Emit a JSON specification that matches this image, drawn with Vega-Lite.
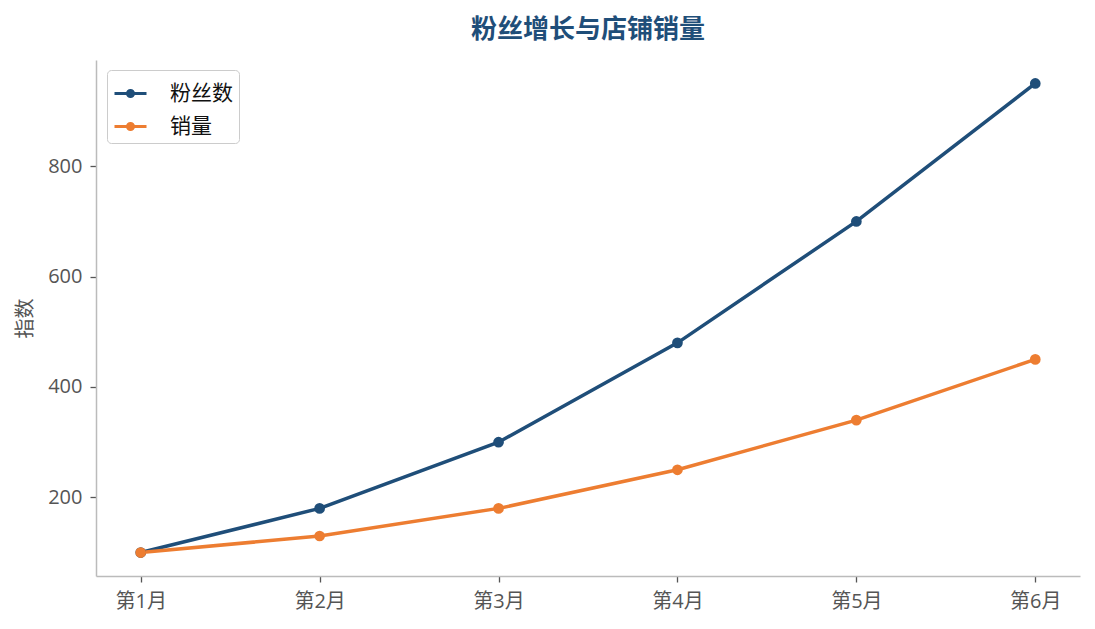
{
  "$schema": "https://vega.github.io/schema/vega-lite/v6.json",
  "autosize": {"type": "none"},
  "padding": {"left": 96, "top": 60, "right": 15, "bottom": 53},
  "width": 984,
  "height": 516,
  "background": "white",
  "title": {
    "text": "粉丝增长与店铺销量",
    "font": "Noto Sans CJK SC",
    "fontSize": 26,
    "fontWeight": "bold",
    "color": "#1f4e79",
    "anchor": "middle",
    "offset": 17
  },
  "config": {
    "view": {"stroke": null},
    "font": "Open Sans, Noto Sans CJK SC"
  },
  "data": {
    "values": [
      {"month": "第1月", "series": "粉丝数", "value": 100},
      {"month": "第2月", "series": "粉丝数", "value": 180},
      {"month": "第3月", "series": "粉丝数", "value": 300},
      {"month": "第4月", "series": "粉丝数", "value": 480},
      {"month": "第5月", "series": "粉丝数", "value": 700},
      {"month": "第6月", "series": "粉丝数", "value": 950},
      {"month": "第1月", "series": "销量", "value": 100},
      {"month": "第2月", "series": "销量", "value": 130},
      {"month": "第3月", "series": "销量", "value": 180},
      {"month": "第4月", "series": "销量", "value": 250},
      {"month": "第5月", "series": "销量", "value": 340},
      {"month": "第6月", "series": "销量", "value": 450}
    ]
  },
  "mark": {"type": "line", "strokeWidth": 3.5, "point": {"size": 115, "filled": true, "opacity": 1}},
  "encoding": {
    "x": {
      "field": "month",
      "type": "ordinal",
      "scale": {"type": "point", "padding": 0.25},
      "axis": {
        "title": null,
        "labelAngle": 0,
        "labelFont": "Open Sans, Noto Sans CJK SC",
        "labelFontSize": 20,
        "labelColor": "#555555",
        "labelPadding": 9,
        "domainColor": "#bbbbbb",
        "domainWidth": 1.5,
        "tickColor": "#555555",
        "tickSize": 6,
        "tickWidth": 1.3,
        "grid": false
      }
    },
    "y": {
      "field": "value",
      "type": "quantitative",
      "scale": {"domain": [57.5, 992.5], "nice": false, "zero": false},
      "axis": {
        "title": "指数",
        "titleFont": "Noto Sans CJK SC",
        "titleFontSize": 20,
        "titleFontWeight": "normal",
        "titleColor": "#555555",
        "titlePadding": 12,
        "values": [200, 400, 600, 800],
        "labelFont": "Open Sans",
        "labelFontSize": 20,
        "labelColor": "#555555",
        "labelPadding": 8,
        "domainColor": "#bbbbbb",
        "domainWidth": 1.5,
        "tickColor": "#555555",
        "tickSize": 6,
        "tickWidth": 1.3,
        "grid": false
      }
    },
    "color": {
      "field": "series",
      "type": "nominal",
      "sort": ["粉丝数", "销量"],
      "scale": {"domain": ["粉丝数", "销量"], "range": ["#1f4e79", "#ed7d31"]},
      "legend": {
        "title": null,
        "orient": "none",
        "legendX": 11,
        "legendY": 10,
        "labelFont": "Noto Sans CJK SC",
        "labelFontSize": 21,
        "labelColor": "#111111",
        "symbolType": "M-1,0H1M-0.19,0A0.19,0.19 0 1,0 0.19,0A0.19,0.19 0 1,0 -0.19,0M-0.08,0A0.08,0.08 0 1,0 0.08,0A0.08,0.08 0 1,0 -0.08,0",
        "symbolSize": 1024,
        "symbolStrokeWidth": 3,
        "strokeColor": "#cccccc",
        "fillColor": "white",
        "cornerRadius": 4,
        "padding": 6,
        "rowPadding": 5,
        "labelOffset": 22
      }
    }
  }
}
